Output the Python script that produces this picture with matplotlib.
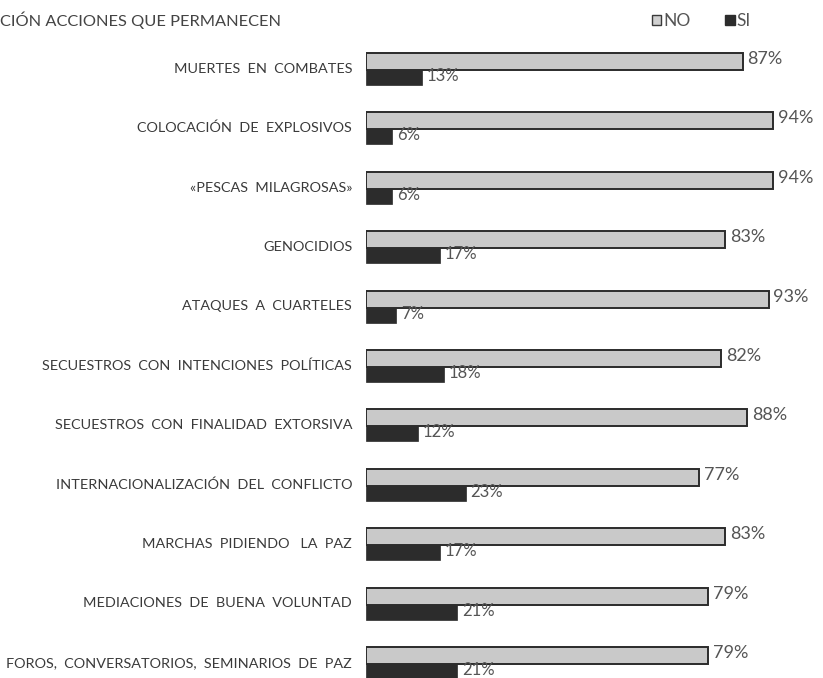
import matplotlib
matplotlib.use("Agg")
import matplotlib.pyplot as plt
from matplotlib.patches import Patch

# data
categories = [
    "MUERTES  EN  COMBATES",
    "COLOCACIÓN  DE  EXPLOSIVOS",
    "«PESCAS  MILAGROSAS»",
    "GENOCIDIOS",
    "ATAQUES  A  CUARTELES",
    "SECUESTROS  CON  INTENCIONES  POLÍTICAS",
    "SECUESTROS  CON  FINALIDAD  EXTORSIVA",
    "INTERNACIONALIZACIÓN  DEL  CONFLICTO",
    "MARCHAS  PIDIENDO   LA  PAZ",
    "MEDIACIONES  DE  BUENA  VOLUNTAD",
    "FOROS,  CONVERSATORIOS,  SEMINARIOS  DE  PAZ",
]
no_vals = [87, 94, 94, 83, 93, 82, 88, 77, 83, 79, 79]
si_vals = [13, 6, 6, 17, 7, 18, 12, 23, 17, 21, 21]

W, H = 823, 678
fig = plt.figure(figsize=(W / 100, H / 100), dpi=100)
fig.patch.set_facecolor("white")

row_px = 59.4
first_px = 70
top_px = 40
ax = fig.add_axes([366 / W, 0, 433 / W, (H - top_px) / H])
ax.set_xlim(0, 100)
ax.set_ylim((H - first_px) / row_px, (top_px - first_px) / row_px)
ax.axis("off")

txt = "#3a3a3a"
pct = "#555555"
h_no = 17 / row_px
h_si = 15 / row_px
ys = list(range(len(categories)))

ax.barh([y - h_no for y in ys], no_vals, height=h_no, align="edge",
        color="#c9c9c9", edgecolor="#2b2b2b", linewidth=1.4)
ax.barh(ys, si_vals, height=h_si, align="edge",
        color="#2c2c2c", edgecolor="#2c2c2c", linewidth=0.5)

for y, cat, n, s in zip(ys, categories, no_vals, si_vals):
    ax.text(-3.2, y - 0.02, cat, ha="right", va="center", fontsize=10.4,
            family="Lato", color=txt, clip_on=False)
    ax.text(n + 1.1, y - h_no * 0.65, f"{n}%", ha="left", va="center",
            fontsize=13, family="Lato", color=pct)
    ax.text(s + 1.1, y + h_si * 0.4, f"{s}%", ha="left", va="center",
            fontsize=12, family="Lato", color=pct)

fig.text(0.0, 1 - 20 / H, "CIÓN ACCIONES QUE PERMANECEN", ha="left", va="center",
         fontsize=11.8, family="Lato", color="#444444")

handles = [Patch(facecolor="#d0d0d0", edgecolor="#3a3a3a", label="NO"),
           Patch(facecolor="#2c2c2c", edgecolor="#2c2c2c", label="SI")]
fig.legend(handles=handles, loc="center left", bbox_to_anchor=(636 / W, 1 - 21 / H),
           ncol=2, frameon=False, handlelength=0.55, handleheight=0.55,
           handletextpad=0.1, columnspacing=2.0, labelcolor="#555555",
           prop={"family": "Lato", "size": 12.5})

fig.savefig("out.png", dpi=100, facecolor="white")
